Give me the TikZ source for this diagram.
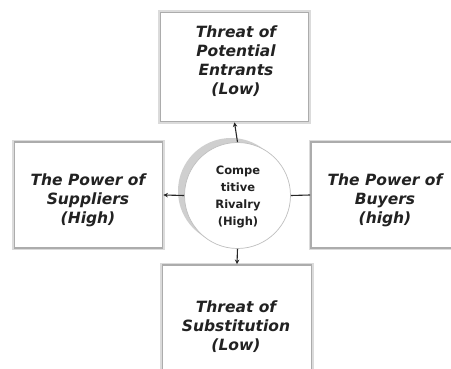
\documentclass[tikz,border=0pt]{standalone}
\usepackage{fontspec}
\setmainfont{DejaVu Sans}
\usetikzlibrary{arrows.meta}
\definecolor{txt}{HTML}{222222}
\tikzset{
  forcebox/.style={rectangle, fill=white, draw=gray!65, line width=1.8pt,
    preaction={draw=gray!28, line width=4.5pt}, inner sep=0pt},
  boxtext/.style={align=center, text=txt, font=\fontsize{15.5}{19}\selectfont\bfseries\itshape, inner sep=0pt},
  circtext/.style={align=center, text=txt, font=\fontsize{11.5}{17}\selectfont\bfseries, inner sep=0pt},
  conn/.style={draw=black!85, line width=1.1pt},
  tip/.style={-{Stealth[length=4.5pt,width=4.5pt]}}
}
\begin{document}
\begin{tikzpicture}[x=1pt,y=-1pt]
\useasboundingbox (0,0) rectangle (451,369);
\clip (0,0) rectangle (451,369);
\fill[white] (0,0) rectangle (451,369);
% boxes
\node[forcebox, minimum width=148pt, minimum height=109pt] (top) at (234.5,67) {};
\node[forcebox, minimum width=148pt, minimum height=106pt] (left) at (88.5,195) {};
\node[forcebox, minimum width=150pt, minimum height=106pt] (right) at (386,195) {};
\node[forcebox, minimum width=149pt, minimum height=112pt] (bottom) at (237,321) {};
% circle with shadow
\node[circle, fill=gray!38, minimum size=106pt, inner sep=0pt] (shadow) at (231,191) {};
\node[circle, fill=white, draw=gray!50, line width=0.7pt, minimum size=106pt, inner sep=0pt] (rivalry) at (237.5,195.5) {};
% connectors
\draw[conn, tip] (rivalry.north) -- (top.south);
\draw[conn, tip] (rivalry.west) -- (left.east);
\draw[conn] (rivalry.east) -- (right.west);
\draw[conn, tip] (rivalry.south) -- (bottom.north);
% texts
\node[boxtext] (toptext) at (236,61) {Threat of\\Potential\\Entrants\\(Low)};
\node[boxtext] (lefttext) at (88,200) {The Power of\\Suppliers\\(High)};
\node[boxtext] (righttext) at (385,200) {The Power of\\Buyers\\(high)};
\node[boxtext] (bottomtext) at (236,327) {Threat of\\Substitution\\(Low)};
\node[circtext] (rivtext) at (238,197) {Compe\\titive\\Rivalry\\(High)};
\end{tikzpicture}
\end{document}
